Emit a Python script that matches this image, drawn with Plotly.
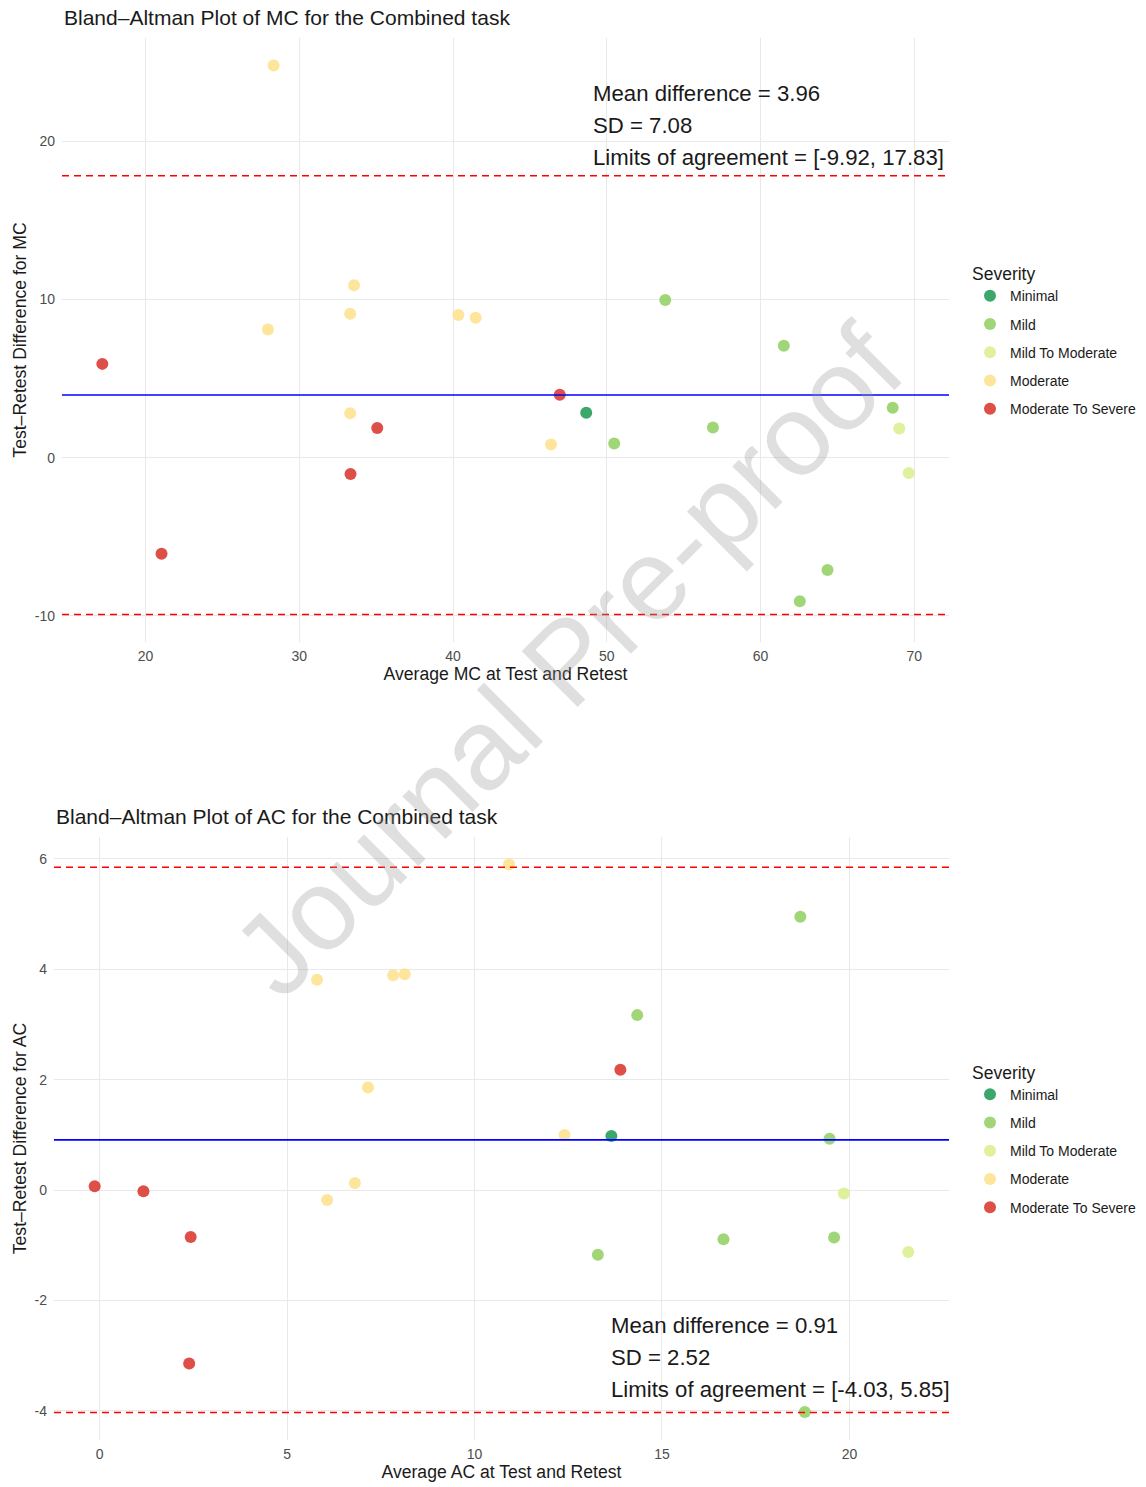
import plotly.graph_objects as go

# Severity categories and their RdYlGn colours
severity_levels = ["Minimal", "Mild", "Mild To Moderate", "Moderate", "Moderate To Severe"]
severity_colors = ["#1a9850", "#91cf60", "#d9ef8b", "#fee08b", "#d73027"]

# MC: average of test and retest vs. test-retest difference
mc_avg = [28.33, 33.56, 33.31, 27.96, 40.35, 41.47, 33.31, 46.37,
          17.19, 46.94, 35.07, 33.33, 21.04,
          48.66,
          53.80, 61.51, 50.48, 56.90, 68.59, 64.35, 62.55,
          69.02, 69.63]
mc_diff = [24.80, 10.90, 9.10, 8.10, 9.02, 8.85, 2.81, 0.83,
           5.93, 3.98, 1.88, -1.04, -6.07,
           2.84,
           9.97, 7.07, 0.89, 1.90, 3.15, -7.11, -9.08,
           1.84, -0.97]
mc_severity = (["Moderate"] * 8 + ["Moderate To Severe"] * 5 + ["Minimal"]
               + ["Mild"] * 7 + ["Mild To Moderate"] * 2)
mc_mean, mc_sd, mc_loa = 3.96, 7.08, [-9.92, 17.83]
mc_xticks = [20, 30, 40, 50, 60, 70]
mc_yticks = [-10, 0, 10, 20]

# AC: average of test and retest vs. test-retest difference
ac_avg = [-0.13, 1.17, 2.43, 2.39, 13.89,
          10.92, 5.80, 7.83, 8.14, 7.16, 12.40, 6.81, 6.07,
          13.65,
          13.29, 18.69, 14.34, 19.47, 16.64, 19.59, 18.81,
          19.85, 21.57]
ac_diff = [0.07, -0.02, -0.85, -3.14, 2.18,
           5.90, 3.81, 3.89, 3.91, 1.86, 1.00, 0.13, -0.18,
           0.98,
           -1.17, 4.95, 3.17, 0.93, -0.89, -0.86, -4.02,
           -0.06, -1.12]
ac_severity = (["Moderate To Severe"] * 5 + ["Moderate"] * 8 + ["Minimal"]
               + ["Mild"] * 7 + ["Mild To Moderate"] * 2)
ac_mean, ac_sd, ac_loa = 0.91, 2.52, [-4.03, 5.85]
ac_xticks = [0, 5, 10, 15, 20]
ac_yticks = [-4, -2, 0, 2, 4, 6]

W, H = 1146, 1487
FONT = "Liberation Sans, Arial, Helvetica, sans-serif"
TEXT = "#1a1a1a"
TICK = "#4d4d4d"
GRID = "#e9e9e9"


def px_x(p):
    return p / W


def px_y(p):
    return 1 - p / H


def padded(values):
    lo, hi = min(values), max(values)
    span = hi - lo
    return [lo - 0.05 * span, hi + 0.05 * span]


panels = [
    dict(key="", avg=mc_avg, diff=mc_diff, sev=mc_severity, mean=mc_mean, sd=mc_sd,
         loa=mc_loa, label="MC", xdom=[px_x(62), px_x(949)], ydom=[px_y(642), px_y(38)],
         xt=mc_xticks, yt=mc_yticks, legend="legend"),
    dict(key="2", avg=ac_avg, diff=ac_diff, sev=ac_severity, mean=ac_mean, sd=ac_sd,
         loa=ac_loa, label="AC", xdom=[px_x(54), px_x(949)], ydom=[px_y(1440), px_y(837)],
         xt=ac_xticks, yt=ac_yticks, legend="legend2"),
]

fig = go.Figure()
annotations = []
shapes = []

for p in panels:
    xa, ya = "x" + p["key"], "y" + p["key"]
    for level, color in zip(severity_levels, severity_colors):
        xs = [a for a, s in zip(p["avg"], p["sev"]) if s == level]
        ys = [d for d, s in zip(p["diff"], p["sev"]) if s == level]
        fig.add_trace(go.Scatter(
            x=xs, y=ys, mode="markers", name=level,
            legendgroup=p["label"] + level, legend=p["legend"],
            xaxis=xa, yaxis=ya,
            marker=dict(size=12, color=color, opacity=0.85, line=dict(width=0)),
        ))

    # mean difference and limits of agreement
    shapes.append(dict(type="line", xref=xa + " domain", yref=ya, x0=0, x1=1,
                       y0=p["mean"], y1=p["mean"], line=dict(color="blue", width=1.6),
                       layer="above"))
    for v in p["loa"]:
        shapes.append(dict(type="line", xref=xa + " domain", yref=ya, x0=0, x1=1,
                           y0=v, y1=v, line=dict(color="red", width=1.5, dash="7px,5px"),
                           layer="above"))

    xr = padded(p["avg"])
    yr = padded(p["diff"] + p["loa"])
    axis_common = dict(showgrid=True, gridcolor=GRID, gridwidth=1.4, zeroline=False,
                       showline=False, ticks="", tickmode="array",
                       tickfont=dict(size=14, color=TICK, family=FONT))
    fig.update_layout(**{
        "xaxis" + p["key"]: dict(domain=p["xdom"], range=xr, anchor=ya,
                                 tickvals=p["xt"], ticktext=[str(t) for t in p["xt"]],
                                 title=dict(text=f"Average {p['label']} at Test and Retest",
                                            font=dict(size=17.6, color=TEXT, family=FONT),
                                            standoff=3),
                                 ticklabelstandoff=4, **axis_common),
        "yaxis" + p["key"]: dict(domain=p["ydom"], range=yr, anchor=xa,
                                 tickvals=p["yt"], ticktext=[str(t) for t in p["yt"]],
                                 title=dict(text=f"Test–Retest Difference for {p['label']}",
                                            font=dict(size=17.6, color=TEXT, family=FONT),
                                            standoff=3),
                                 ticklabelstandoff=6, **axis_common),
        p["legend"]: dict(title=dict(text="Severity", font=dict(size=17.5, color=TEXT)),
                          font=dict(size=14, color=TEXT, family=FONT),
                          x=px_x(970), xanchor="left",
                          y=(p["ydom"][0] + p["ydom"][1]) / 2 - 1 / H, yanchor="middle",
                          traceorder="grouped", tracegroupgap=7,
                          bgcolor="rgba(0,0,0,0)"),
    })

# panel titles
annotations.append(dict(text="Bland–Altman Plot of MC for the Combined task", xref="paper",
                        yref="paper", x=px_x(62), y=px_y(18), xanchor="left", yanchor="middle",
                        showarrow=False, font=dict(size=21, color=TEXT, family=FONT)))
annotations.append(dict(text="Bland–Altman Plot of AC for the Combined task", xref="paper",
                        yref="paper", x=px_x(54), y=px_y(816), xanchor="left", yanchor="middle",
                        showarrow=False, font=dict(size=21, color=TEXT, family=FONT)))

# agreement statistics
stat_blocks = [
    ("x", "y", 48.97, [23.0, 21.0, 19.0], mc_mean, mc_sd, mc_loa),
    ("x2", "y2", 13.58, [-2.46, -3.04, -3.62], ac_mean, ac_sd, ac_loa),
]
for xr_, yr_, x0, ys, m, sd, loa in stat_blocks:
    lines = [f"Mean difference = {m:.2f}", f"SD = {sd:.2f}",
             f"Limits of agreement = [{loa[0]:.2f}, {loa[1]:.2f}]"]
    for line, yv in zip(lines, ys):
        annotations.append(dict(text=line, xref=xr_, yref=yr_, x=x0, y=yv, xanchor="left",
                                yanchor="middle", showarrow=False,
                                font=dict(size=22.2, color=TEXT, family=FONT)))

# watermark
annotations.append(dict(text="Journal Pre-proof", xref="paper", yref="paper",
                        x=px_x(568), y=px_y(660), xanchor="center", yanchor="middle",
                        textangle=-45, showarrow=False,
                        font=dict(size=115, color="rgba(150,150,150,0.3)", family=FONT)))

fig.update_layout(
    width=W, height=H,
    margin=dict(l=0, r=0, t=0, b=0),
    paper_bgcolor="white", plot_bgcolor="white",
    font=dict(family=FONT, color=TEXT),
    annotations=annotations, shapes=shapes,
)

fig.write_html("out.html")
